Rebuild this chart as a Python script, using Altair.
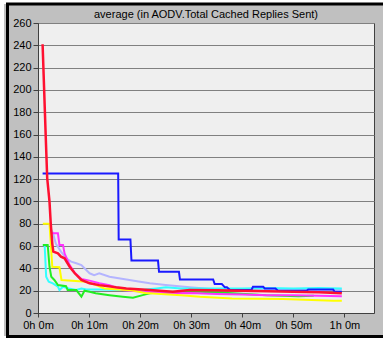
import altair as alt
import pandas as pd

# ---- data (minutes, values) ----
blue_t = [0.9, 15.7, 15.8, 18.1, 18.3, 23.5, 23.7, 27.6, 27.8, 34.3, 34.6, 36.0, 36.6, 37.0, 37.6, 41.8, 42.1, 44.1, 44.4, 46.5, 47.0, 52.6, 52.9, 57.8, 58.1, 59.5]
blue_v = [125, 125, 66, 66, 47, 47, 37, 37, 30, 30, 26, 26, 23, 23, 20.6, 20.6, 23.5, 23.5, 22, 22, 20, 20, 21, 21, 19, 19]

red_t = [0.9, 1.5, 1.8, 2.25, 2.5, 2.8, 3.0, 3.9, 4.5, 5.2, 6.2, 7.2, 8.5, 10.1, 12, 15.3, 17.3, 21.9, 26.4, 29.7, 35, 40, 45, 50, 55, 59.5]
red_v = [241, 160, 121, 100, 80, 62, 55, 53.5, 50.5, 49, 41.5, 35.6, 29.6, 26.6, 25, 23, 22, 20.6, 19, 20.6, 20.3, 20, 19.5, 19, 18.5, 17.8]

lav_t = [2.3, 2.9, 3.5, 4.5, 5.5, 6.5, 7.5, 8.5, 10.1, 11, 12, 14, 17.3, 20, 21.9, 25, 29.7, 35, 40, 45, 50, 55, 59.5]
lav_v = [77, 72, 62, 55, 49, 46, 44.6, 43, 35.6, 34, 35.6, 32.5, 30, 28, 26.6, 25, 23, 21, 20.5, 20.5, 20.5, 21, 21]

mag_t = [2.6, 2.9, 3.9, 4.2, 4.9, 5.2, 6.2, 7.2, 8.5, 10.1, 12, 14, 16.6, 18.6, 21.9, 25.2, 30, 35, 40, 45, 50, 55, 59.5]
mag_v = [72, 71.5, 71.5, 61, 61, 53.5, 43, 36, 30.5, 29, 26.6, 25, 20.6, 19.7, 19, 17.7, 18, 17, 16.5, 16, 16, 15.5, 15]

yel_t = [0.95, 2.25, 2.8, 4.2, 4.6, 9.5, 11.4, 13, 18, 21, 28, 31.7, 38, 48, 57.8, 59.5]
yel_v = [80, 80, 41.5, 41, 29.6, 28, 25, 22, 20.5, 18, 16, 14.6, 13, 12.5, 11, 11]

cyan_t = [0.95, 1.3, 1.6, 2.1, 2.9, 3.9, 4.2, 4.9, 6.0, 7.5, 8.5, 9.5, 12, 18.6, 21, 23.2, 25, 28, 35, 40, 45, 50, 55, 59.5]
cyan_v = [61, 61, 32.5, 28, 26.6, 23.6, 20.6, 23.6, 22, 20.6, 22, 21, 21, 20.5, 21, 22, 23, 22, 22, 22, 22.5, 22, 22.5, 22]

green_t = [0.95, 1.9, 2.25, 2.6, 3.2, 3.9, 5.5, 5.8, 7.5, 8.5, 9.1, 10.1, 11.3, 14, 16.6, 18.6, 20.5, 21.9, 25, 31.7, 38.2, 44.7, 51, 54]
green_v = [61, 61, 41.5, 32.5, 29.6, 25, 24, 20.6, 20.6, 14.6, 20, 19, 17.7, 16, 14.6, 13.7, 16, 17.7, 19, 19, 17.7, 16, 15, 15.5]

series = [
    ("lavender", lav_t, lav_v, "#b4b4ff", 2),
    ("cyan", cyan_t, cyan_v, "#33ffff", 2),
    ("green", green_t, green_v, "#22ee22", 2),
    ("magenta", mag_t, mag_v, "#ff33ff", 2),
    ("yellow", yel_t, yel_v, "#ffff00", 2),
    ("blue", blue_t, blue_v, "#1a1aff", 2),
    ("red", red_t, red_v, "#ff1030", 2.5),
]

title_text = "average (in AODV.Total Cached Replies Sent)"
x_ticks = [0, 10, 20, 30, 40, 50, 60]
y_ticks = list(range(0, 261, 20))

FONT = "Liberation Sans"

x_enc = alt.X("t:Q",
              scale=alt.Scale(domain=[0, 65.8], nice=False, zero=False),
              axis=alt.Axis(values=x_ticks, title=None, grid=False,
                            labelExpr="floor(datum.value/60) + 'h ' + (datum.value % 60) + 'm'",
                            tickSize=4, labelPadding=2, labelFont=FONT, labelFontSize=11,
                            labelColor="black", domainColor="#404040", tickColor="#404040",
                            labelFlush=False))
y_enc = alt.Y("v:Q",
              scale=alt.Scale(domain=[0, 260], nice=False),
              axis=alt.Axis(values=y_ticks, title=None, grid=True, gridColor="#808080",
                            gridWidth=1, tickSize=5, labelPadding=2, labelFont=FONT,
                            labelFontSize=11, labelColor="black", domainColor="#404040",
                            tickColor="#404040"))

layers = []
for name, ts, vs, col, w in series:
    df = pd.DataFrame({"t": ts, "v": vs})
    layers.append(
        alt.Chart(df).mark_line(color=col, strokeWidth=w, strokeJoin="miter").encode(
            x=x_enc, y=y_enc)
    )

dummy = pd.DataFrame({"label": [title_text]})
white_edge = alt.Chart(dummy).mark_rect(filled=False, stroke="white", strokeWidth=8).encode(
    x=alt.value(-38), x2=alt.value(350), y=alt.value(-23), y2=alt.value(317))
black_frame = alt.Chart(dummy).mark_rect(filled=False, stroke="black", strokeWidth=3).encode(
    x=alt.value(-30.5), x2=alt.value(352), y=alt.value(-19), y2=alt.value(313.5))
title_mark = alt.Chart(dummy).mark_text(font=FONT, fontSize=11, color="black",
                                        align="center", baseline="middle").encode(
    x=alt.value(168), y=alt.value(-8), text="label:N")

chart = alt.layer(*layers, white_edge, black_frame, title_mark).properties(
    width=336, height=290,
    autosize=alt.AutoSizeParams(type="none"),
    padding={"left": 38, "top": 23, "right": 9, "bottom": 27},
    background="#c0c0c0",
).configure_view(fill="#efefef", stroke="#404040", strokeWidth=1)

chart.save("out.html", embed_options={"renderer": "svg", "actions": False})
